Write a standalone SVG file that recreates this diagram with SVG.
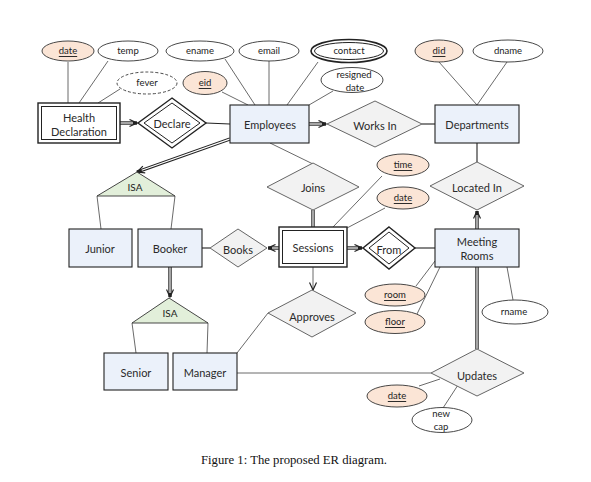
<svg xmlns="http://www.w3.org/2000/svg" width="591" height="482" viewBox="0 0 591 482">
<style>
.ent{fill:#ebf1fa;stroke:#222;stroke-width:1.1}
.rel{fill:#f2f2f2;stroke:#555;stroke-width:0.9}
.drel{fill:#f2f2f2;stroke:#222;stroke-width:1.2}
.att{fill:#fff;stroke:#333;stroke-width:0.9}
.key{fill:#fbe5d6;stroke:#333;stroke-width:0.9}
.isa{fill:#e2efda;stroke:#333;stroke-width:0.9}
.t{font-family:Lato,"Liberation Sans",sans-serif;font-size:11px;fill:#2a2a2a;text-anchor:middle;dominant-baseline:central}
.a{font-family:Lato,"Liberation Sans",sans-serif;font-size:9.5px;fill:#222;text-anchor:middle;dominant-baseline:central}
.u{text-decoration:underline}
.ln{stroke:#444;stroke-width:0.8;fill:none}
.sl{stroke:#222;stroke-width:1.1;fill:none}
.dO{stroke:#222;stroke-width:3.4;fill:none}
.dI{stroke:#fff;stroke-width:1.2;fill:none}
.cap{font-family:"Liberation Serif",serif;font-size:12px;fill:#111;text-anchor:middle}
</style>
<defs>
<marker id="ah" markerUnits="userSpaceOnUse" markerWidth="9" markerHeight="9" viewBox="0 0 9 9" refX="8.5" refY="4.5" orient="auto">
<path d="M1,1 L8.5,4.5 L1,8" fill="none" stroke="#222" stroke-width="1.2"/>
</marker>
</defs>
<rect width="591" height="482" fill="#fff"/>

<g id="connectors">
<!-- attribute lines -->
<line class="ln" x1="68" y1="62" x2="68" y2="103"/>
<line class="ln" x1="108" y1="61" x2="79" y2="103"/>
<line class="ln" x1="120" y1="89" x2="98" y2="103"/>
<line class="ln" x1="225" y1="59" x2="255" y2="105"/>
<line class="ln" x1="222" y1="92" x2="248" y2="105"/>
<line class="ln" x1="269" y1="61" x2="269" y2="105"/>
<line class="ln" x1="318" y1="62" x2="287" y2="105"/>
<line class="ln" x1="333" y1="91" x2="309" y2="105"/>
<line class="ln" x1="439" y1="62" x2="477" y2="105"/>
<line class="ln" x1="507" y1="62" x2="477" y2="105"/>
<line class="ln" x1="382" y1="176" x2="333" y2="227"/>
<line class="ln" x1="385" y1="208" x2="347" y2="228"/>
<line class="ln" x1="416" y1="286" x2="435" y2="261"/>
<line class="ln" x1="417" y1="314" x2="440" y2="267"/>
<line class="ln" x1="513" y1="300" x2="507" y2="267"/>
<line class="ln" x1="419" y1="386" x2="440" y2="379"/>
<line class="ln" x1="443" y1="408" x2="458" y2="385"/>
<!-- ISA branches -->
<line class="ln" x1="97" y1="196" x2="101" y2="229"/>
<line class="ln" x1="175" y1="196" x2="171" y2="229"/>
<line class="ln" x1="132" y1="323" x2="136" y2="353"/>
<line class="ln" x1="208" y1="323" x2="207" y2="353"/>
<!-- single relationship lines -->
<line class="sl" x1="230" y1="124" x2="206" y2="123"/>
<line class="sl" x1="422" y1="124" x2="435" y2="124"/>
<line class="sl" x1="477" y1="143" x2="477" y2="162"/>
<line class="ln" x1="270" y1="143" x2="313" y2="164"/>
<line class="sl" x1="415" y1="248" x2="435" y2="248"/>
<line class="sl" x1="210" y1="248" x2="202" y2="248"/>
<line class="ln" x1="237" y1="353" x2="268" y2="313"/>
<line class="ln" x1="237" y1="373" x2="431" y2="373"/>
<line class="ln" x1="313" y1="267" x2="313" y2="290" marker-end="url(#ah)"/>
<!-- double lines -->
<line class="dO" x1="120" y1="123" x2="137" y2="123" marker-end="url(#ah)"/>
<line class="dI" x1="119" y1="123" x2="133" y2="123"/>
<line class="dO" x1="309" y1="124" x2="326" y2="124" marker-end="url(#ah)"/>
<line class="dI" x1="308" y1="124" x2="322" y2="124"/>
<line class="dO" x1="230" y1="139" x2="137" y2="172" marker-end="url(#ah)"/>
<line class="dI" x1="231" y1="138.6" x2="141.7" y2="170.3"/>
<line class="dO" x1="313" y1="210" x2="313" y2="227"/>
<line class="dI" x1="313" y1="209" x2="313" y2="228"/>
<line class="dO" x1="279" y1="248" x2="268" y2="248" marker-end="url(#ah)"/>
<line class="dI" x1="280" y1="248" x2="272" y2="248"/>
<line class="dO" x1="347" y1="248" x2="362" y2="248" marker-end="url(#ah)"/>
<line class="dI" x1="346" y1="248" x2="358" y2="248"/>
<line class="dO" x1="170" y1="267" x2="170" y2="297" marker-end="url(#ah)"/>
<line class="dI" x1="170" y1="266" x2="170" y2="293"/>
<line class="dO" x1="477" y1="349" x2="477" y2="211" marker-end="url(#ah)"/>
<line class="dI" x1="477" y1="350" x2="477" y2="215"/>
</g>

<g id="health-declaration">
<rect x="38" y="103" width="82" height="40" fill="#fff" stroke="#222" stroke-width="1.4"/>
<rect x="41.5" y="106.5" width="75" height="33" fill="#fff" stroke="#222" stroke-width="1"/>
<text class="t" x="79" y="117">Health</text>
<text class="t" x="79" y="131">Declaration</text>
</g>
<g id="declare">
<polygon points="172,98 206,123 172,148 138,123" fill="#fff" stroke="#222" stroke-width="1.4"/>
<polygon points="172,103 200,123 172,143 144,123" fill="#fff" stroke="#222" stroke-width="1"/>
<text class="t" x="172" y="123">Declare</text>
</g>
<g id="employees">
<rect class="ent" x="230" y="105" width="79" height="38"/>
<text class="t" x="270" y="124">Employees</text>
</g>
<g id="works-in">
<polygon class="rel" points="375,101 422,124 375,147 327,124"/>
<text class="t" x="375" y="125">Works In</text>
</g>
<g id="departments">
<rect class="ent" x="435" y="105" width="84" height="38"/>
<text class="t" x="477" y="124">Departments</text>
</g>

<g id="attr-date-hd"><ellipse class="key" cx="68" cy="51" rx="26" ry="10"/><text class="a u" x="68" y="50.5">date</text></g>
<g id="attr-temp"><ellipse class="att" cx="128" cy="51" rx="30" ry="10"/><text class="a" x="128" y="50.5">temp</text></g>
<g id="attr-fever"><ellipse class="att" cx="147" cy="83" rx="30" ry="11" stroke-dasharray="3,2"/><text class="a" x="147" y="82.5">fever</text></g>
<g id="attr-ename"><ellipse class="att" cx="200" cy="51" rx="34" ry="10"/><text class="a" x="200" y="50.5">ename</text></g>
<g id="attr-eid"><ellipse class="key" cx="205" cy="83" rx="22" ry="11.5"/><text class="a u" x="205" y="82.5">eid</text></g>
<g id="attr-email"><ellipse class="att" cx="269" cy="51" rx="30" ry="10"/><text class="a" x="269" y="50.5">email</text></g>
<g id="attr-contact"><ellipse cx="349" cy="51" rx="38" ry="11.5" fill="#fff" stroke="#222" stroke-width="1.6"/><ellipse cx="349" cy="51" rx="34.5" ry="8.5" fill="#fff" stroke="#222" stroke-width="1"/><text class="a" x="349" y="50.5">contact</text></g>
<g id="attr-resigned"><ellipse class="att" cx="352" cy="80" rx="31" ry="12.5"/><text class="a" x="354" y="74">resigned</text><text class="a" x="355" y="87">date</text></g>
<g id="attr-did"><ellipse class="key" cx="439" cy="51" rx="24" ry="11"/><text class="a u" x="439" y="50.5">did</text></g>
<g id="attr-dname"><ellipse class="att" cx="508" cy="51" rx="35" ry="11"/><text class="a" x="508" y="50.5">dname</text></g>

<g id="isa-employees">
<polygon class="isa" points="137,172 175,196 97,196"/>
<text class="a" x="135" y="187" style="font-size:10px">ISA</text>
</g>
<g id="junior"><rect class="ent" x="69" y="229" width="63" height="38"/><text class="t" x="100" y="248">Junior</text></g>
<g id="booker"><rect class="ent" x="138" y="229" width="64" height="38"/><text class="t" x="170" y="248">Booker</text></g>
<g id="books"><polygon class="rel" points="238,229 267,248 238,267 210,248"/><text class="t" x="238" y="249">Books</text></g>
<g id="joins"><polygon class="rel" points="313,163 359,187 313,210 267,187"/><text class="t" x="313" y="187">Joins</text></g>
<g id="sessions">
<rect x="279" y="227" width="68" height="40" fill="#fff" stroke="#222" stroke-width="1.4"/>
<rect x="282.5" y="230.5" width="61" height="33" fill="#fff" stroke="#222" stroke-width="1"/>
<text class="t" x="313" y="247">Sessions</text>
</g>
<g id="attr-time"><ellipse class="key" cx="403" cy="165" rx="26" ry="11"/><text class="a u" x="403" y="164.5">time</text></g>
<g id="attr-date-s"><ellipse class="key" cx="403" cy="198" rx="26" ry="11"/><text class="a u" x="403" y="197.5">date</text></g>
<g id="from">
<polygon points="389,227 415,248 389,269 363,248" fill="#fff" stroke="#222" stroke-width="1.4"/>
<polygon points="389,232 409,248 389,264 369,248" fill="#fff" stroke="#222" stroke-width="1"/>
<text class="t" x="389" y="249">From</text>
</g>
<g id="located-in"><polygon class="rel" points="477,162 524,186 477,210 430,186"/><text class="t" x="477" y="187">Located In</text></g>
<g id="meeting-rooms">
<rect class="ent" x="435" y="229" width="84" height="38"/>
<text class="t" x="477" y="241">Meeting</text>
<text class="t" x="477" y="255">Rooms</text>
</g>
<g id="attr-room"><ellipse class="key" cx="395" cy="295" rx="30" ry="11"/><text class="a u" x="395" y="294.5">room</text></g>
<g id="attr-floor"><ellipse class="key" cx="395" cy="322" rx="30" ry="11.5"/><text class="a u" x="395" y="321.5">floor</text></g>
<g id="attr-rname"><ellipse class="att" cx="515" cy="312" rx="33" ry="12"/><text class="a" x="514" y="311.5">rname</text></g>
<g id="approves"><polygon class="rel" points="312,290 356,313 312,337 268,313"/><text class="t" x="312" y="316">Approves</text></g>
<g id="isa-booker">
<polygon class="isa" points="169,298 208,323 132,323"/>
<text class="a" x="170" y="313" style="font-size:10px">ISA</text>
</g>
<g id="senior"><rect class="ent" x="104" y="353" width="64" height="37"/><text class="t" x="136" y="372">Senior</text></g>
<g id="manager"><rect class="ent" x="173" y="353" width="64" height="37"/><text class="t" x="205" y="372">Manager</text></g>
<g id="updates"><polygon class="rel" points="477,349 524,373 477,396 431,373"/><text class="t" x="477" y="375">Updates</text></g>
<g id="attr-date-u"><ellipse class="key" cx="397" cy="396" rx="30" ry="11"/><text class="a u" x="397" y="395.5">date</text></g>
<g id="attr-newcap"><ellipse class="att" cx="442" cy="420" rx="30" ry="12.5"/><text class="a" x="441" y="413">new</text><text class="a" x="441" y="426">cap</text></g>

<text class="cap" x="294" y="464" textLength="186" lengthAdjust="spacingAndGlyphs">Figure 1: The proposed ER diagram.</text>
</svg>
